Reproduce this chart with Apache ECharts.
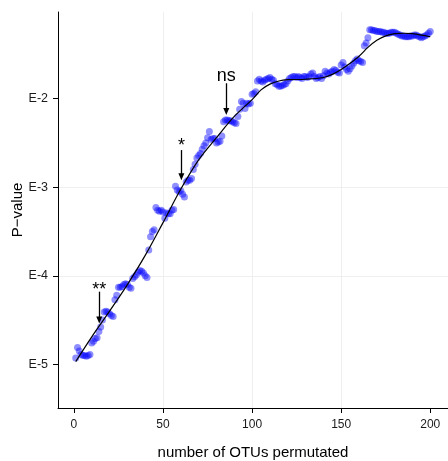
<!DOCTYPE html>
<html>
<head>
<meta charset="utf-8">
<script src="https://cdn.jsdelivr.net/npm/echarts@6/dist/echarts.min.js"></script>
<style>
  html, body { margin: 0; padding: 0; background: #fff; }
  #chart { width: 448px; height: 461px; }
</style>
</head>
<body>
<div id="chart"></div>
<script>
// log10(P-value) for 1..200 OTUs permutated
var pvals = [
  -4.93, -4.81, -4.85, -4.89, -4.90, -4.90, -4.91, -4.90, -4.89, -4.76,
  -4.74, -4.71, -4.70, -4.63, -4.58, -4.50, -4.41, -4.40, -4.41, -4.43,
  -4.45, -4.46, -4.27, -4.22, -4.13, -4.13, -4.12, -4.10, -4.09, -4.10,
  -4.13, -4.14, -4.03, -4.01, -3.99, -3.96, -3.94, -3.95, -3.97, -4.00,
  -4.02, -3.71, -3.56, -3.50, -3.48, -3.23, -3.26, -3.27, -3.26, -3.28,
  -3.35, -3.29, -3.30, -3.30, -3.26, -3.25, -2.99, -3.03, -3.05, -3.04,
  -3.08, -3.11, -2.94, -2.92, -2.92, -2.90, -2.80, -2.74, -2.67, -2.64,
  -2.62, -2.57, -2.53, -2.50, -2.44, -2.37, -2.46, -2.45, -2.45, -2.50,
  -2.49, -2.48, -2.42, -2.26, -2.24, -2.24, -2.25, -2.25, -2.26, -2.27,
  -2.28, -2.20, -2.12, -2.03, -2.05, -2.11, -2.05, -2.06, -2.05, -1.95,
  -1.94, -1.92, -1.80, -1.78, -1.80, -1.81, -1.79, -1.78, -1.77, -1.76,
  -1.78, -1.79, -1.83, -1.84, -1.86, -1.86, -1.85, -1.84, -1.83, -1.80,
  -1.77, -1.76, -1.75, -1.75, -1.76, -1.75, -1.76, -1.77, -1.75, -1.75,
  -1.76, -1.75, -1.72, -1.71, -1.75, -1.77, -1.76, -1.75, -1.77, -1.74,
  -1.69, -1.71, -1.72, -1.70, -1.69, -1.67, -1.68, -1.70, -1.71, -1.62,
  -1.59, -1.64, -1.67, -1.69, -1.66, -1.63, -1.60, -1.57, -1.55, -1.57,
  -1.58, -1.59, -1.40, -1.37, -1.31, -1.22, -1.22, -1.23, -1.23, -1.24,
  -1.24, -1.24, -1.25, -1.25, -1.26, -1.26, -1.26, -1.25, -1.25, -1.25,
  -1.26, -1.27, -1.28, -1.29, -1.29, -1.30, -1.30, -1.30, -1.29, -1.29,
  -1.28, -1.28, -1.29, -1.30, -1.31, -1.30, -1.29, -1.28, -1.26, -1.24
];

// smoothed fit
var fitX = [1, 10, 20, 30, 40, 50, 60, 70, 80, 90, 100, 105, 110, 115, 120, 130, 140, 145, 150, 155, 160, 165, 170, 175, 180, 185, 190, 200];
var fitY = [-4.97, -4.69, -4.40, -4.10, -3.77, -3.40, -3.02, -2.69, -2.44, -2.20, -2.01, -1.90, -1.835, -1.80, -1.785, -1.78, -1.76, -1.725, -1.67, -1.60, -1.52, -1.42, -1.34, -1.29, -1.265, -1.26, -1.265, -1.30];

// significance annotations
var annX = [14.2, 60.3, 85.5];
var annTail = [-4.18, -2.58, -1.825];
var annTip = [-4.50, -2.88, -2.145];
var annTextY = [-4.164, -2.537, -1.742];
var annText = ['**', '*', 'ns'];

var xTicks = [0, 50, 100, 150, 200];
var yTicks = [-5, -4, -3, -2];

var FONT = 'Liberation Sans, Arial, Helvetica, sans-serif';

var points = pvals.map(function (v, i) { return [i + 1, v]; });
var fit = fitX.map(function (x, i) { return [x, fitY[i]]; });

var arrows = annX.map(function (x, i) {
    return [{ coord: [x, annTail[i]] }, { coord: [x, annTip[i]] }];
});
var labels = annX.map(function (x, i) {
    return { coord: [x, annTextY[i]], value: annText[i] };
});

var chart = echarts.init(document.getElementById('chart'));
var option = {
    animation: false,
    backgroundColor: '#ffffff',
    textStyle: { fontFamily: FONT },
    grid: { left: 58, right: 0, top: 12, bottom: 53, containLabel: false, outerBoundsMode: 'none' },
    xAxis: {
        type: 'value',
        min: -8.95,
        max: 209.95,
        minInterval: 25,
        maxInterval: 25,
        name: 'number of OTUs permutated',
        nameLocation: 'middle',
        nameGap: 37,
        nameTextStyle: { fontSize: 15, color: '#000', fontFamily: FONT },
        axisLine: { onZero: false, lineStyle: { color: '#000', width: 1 } },
        axisTick: { length: 5, customValues: xTicks, lineStyle: { color: '#000' } },
        axisLabel: { customValues: xTicks, margin: 11, fontSize: 12, color: '#1a1a1a', fontFamily: FONT },
        splitLine: { show: true, showMinLine: false, showMaxLine: false, lineStyle: { color: '#efefef', width: 1 } }
    },
    yAxis: {
        type: 'value',
        min: -5.494,
        max: -1.02,
        minInterval: 0.5,
        maxInterval: 0.5,
        name: 'P\u2212value',
        nameLocation: 'middle',
        nameGap: 33,
        nameRotate: 90,
        nameMoveOverlap: false,
        nameTextStyle: { fontSize: 15, color: '#000', fontFamily: FONT },
        axisLine: { show: true, onZero: false, lineStyle: { color: '#000', width: 1 } },
        axisTick: { show: true, length: 5, customValues: yTicks, lineStyle: { color: '#000' } },
        axisLabel: {
            customValues: yTicks,
            margin: 10,
            fontSize: 12.5,
            color: '#1a1a1a',
            fontFamily: FONT,
            formatter: function (v) { return 'E' + v; }
        },
        splitLine: { show: true, showMinLine: false, showMaxLine: false, lineStyle: { color: '#efefef', width: 1 } }
    },
    series: [
        {
            type: 'scatter',
            data: points,
            symbolSize: 7,
            itemStyle: { color: 'rgba(0,0,255,0.55)' },
            z: 2
        },
        {
            type: 'line',
            data: fit,
            smooth: 0.35,
            symbol: 'none',
            lineStyle: { color: '#000', width: 1.2 },
            z: 3
        },
        {
            type: 'line',
            data: [],
            z: 4,
            markLine: {
                silent: true,
                symbol: ['none', 'triangle'],
                symbolSize: [6, 7],
                label: { show: false },
                lineStyle: { color: '#000', width: 1.3, type: 'solid' },
                data: arrows
            },
            markPoint: {
                silent: true,
                symbol: 'circle',
                symbolSize: 0,
                label: {
                    show: true,
                    position: 'inside',
                    color: '#000',
                    fontSize: 18,
                    fontFamily: FONT,
                    formatter: function (p) { return p.value; }
                },
                data: labels
            }
        }
    ]
};
chart.setOption(option);
window.addEventListener('resize', function () { chart.resize(); });
</script>
</body>
</html>
